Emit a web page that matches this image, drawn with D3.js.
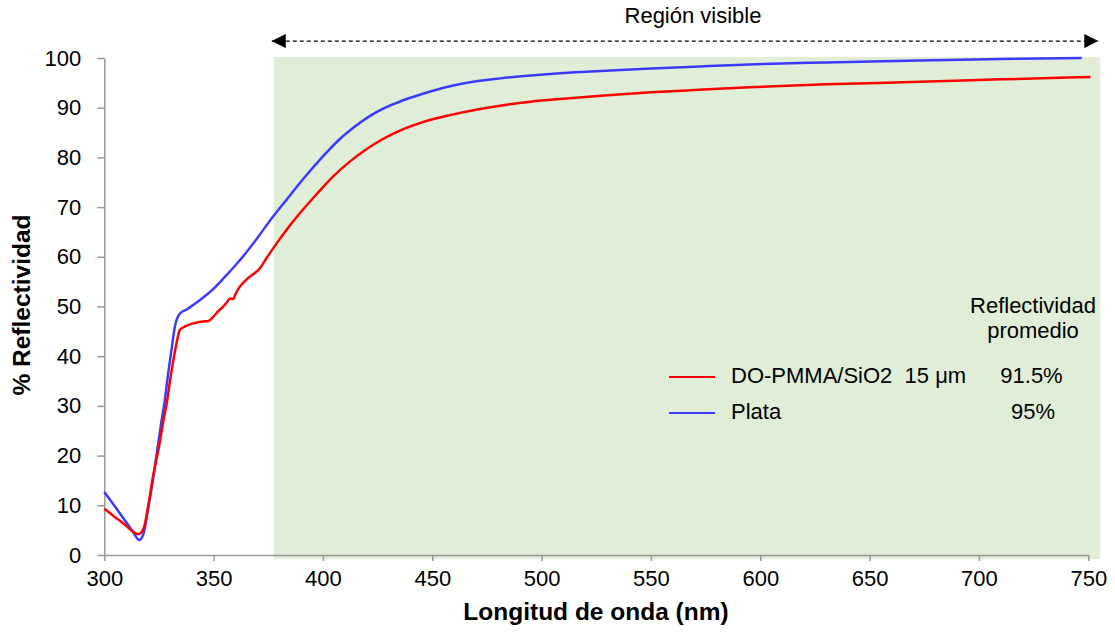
<!DOCTYPE html>
<html>
<head>
<meta charset="utf-8">
<script src="https://cdn.jsdelivr.net/npm/d3@7"></script>
<style>
  body { margin: 0; background: #fff; }
  svg { display: block; font-family: "Liberation Sans", Arial, sans-serif; }
</style>
</head>
<body>
<svg id="chart" width="1115" height="636"></svg>
<script>
// ---- Data ----
const xTicks = [300, 350, 400, 450, 500, 550, 600, 650, 700, 750];
const yTicks = [0, 10, 20, 30, 40, 50, 60, 70, 80, 90, 100];

const plataNm = [300, 305, 310, 313, 316, 318, 320, 322, 324.5, 326, 327.7, 329.2, 330.7, 332.3, 334.6, 337.7, 340, 343.8, 350, 355, 360, 365, 370, 377, 385, 392, 400, 407, 414, 421, 428, 435, 445, 458, 470, 481, 495, 510, 527, 550, 572, 595, 630, 673, 710, 747];
const plataVal = [12.7, 9.7, 6.6, 4.8, 3.0, 4.4, 9.1, 14.4, 22.0, 26.5, 31.2, 36.5, 41.2, 46.0, 48.6, 49.4, 50.1, 51.3, 53.6, 55.9, 58.3, 60.9, 63.8, 68.0, 72.4, 76.2, 80.2, 83.4, 86.0, 88.2, 89.9, 91.2, 92.7, 94.3, 95.3, 95.9, 96.5, 97.0, 97.4, 97.9, 98.3, 98.7, 99.1, 99.5, 99.8, 100.0];

const pmmaNm = [300, 305, 310, 313, 315.5, 318, 320, 322, 325.5, 327, 328.8, 330.2, 331.6, 333.2, 334.6, 337, 340.7, 345, 347.6, 349.8, 352, 354.4, 356, 357.5, 359, 360, 362, 366, 371.2, 374, 378.8, 384, 389.5, 397.1, 404.7, 412.4, 420, 427, 435.2, 445, 458, 470, 481, 495, 510, 527, 550, 572, 595, 630, 673, 710, 751];
const pmmaVal = [9.3, 7.6, 5.9, 4.7, 4.2, 5.4, 9.7, 15.1, 23.0, 27.0, 31.2, 35.5, 39.2, 43.0, 45.3, 46.0, 46.6, 47.0, 47.1, 47.9, 49.0, 50.0, 50.8, 51.6, 51.5, 52.5, 54.0, 55.8, 57.7, 59.6, 62.7, 65.8, 68.8, 72.6, 76.2, 79.2, 81.7, 83.6, 85.4, 87.0, 88.5, 89.6, 90.4, 91.2, 91.8, 92.4, 93.1, 93.6, 94.1, 94.7, 95.2, 95.7, 96.2];

const seriesNames = ["DO-PMMA/SiO2  15 \u03BCm", "Plata"];
const seriesAvg = ["91.5%", "95%"];
const seriesColors = ["#ff0000", "#3b3bff"];
const visibleRange = [377.5, 755.5];

// ---- Scales ----
const svg = d3.select("#chart");
const x = d3.scaleLinear().domain([300, 750]).range([104.3, 1088.3]);
const y = d3.scaleLinear().domain([0, 100]).range([555, 58]);

const FONT = 22;

// Visible region background
svg.append("rect")
  .attr("x", x(visibleRange[0]))
  .attr("y", y(100.2))
  .attr("width", x(visibleRange[1]) - x(visibleRange[0]))
  .attr("height", y(-0.8) - y(100.2))
  .attr("fill", "#e1eed7");

// Arrow
const defs = svg.append("defs");
defs.append("marker").attr("id", "ah").attr("viewBox", "0 0 10 10")
  .attr("refX", 10).attr("refY", 5).attr("markerWidth", 16).attr("markerHeight", 14)
  .attr("markerUnits", "userSpaceOnUse").attr("orient", "auto-start-reverse")
  .append("path").attr("d", "M0,0 L10,5 L0,10 Z").attr("fill", "#000");

svg.append("line")
  .attr("x1", x(visibleRange[0]) - 2).attr("x2", x(visibleRange[1]) - 2)
  .attr("y1", y(103.4)).attr("y2", y(103.4))
  .attr("stroke", "#000").attr("stroke-width", 1.3)
  .attr("stroke-dasharray", "4,3")
  .attr("marker-start", "url(#ah)").attr("marker-end", "url(#ah)");

svg.append("text")
  .attr("x", 693).attr("y", 23)
  .attr("text-anchor", "middle")
  .attr("font-size", FONT).attr("fill", "#000")
  .text("Región visible");

// Axes
const xAxis = d3.axisBottom(x).tickValues(xTicks).tickSize(6).tickSizeOuter(0).tickPadding(9);
const gx = svg.append("g").attr("transform", `translate(0,${y(0)})`).call(xAxis);
gx.select(".domain").attr("stroke", "#999").attr("stroke-width", 1.5);
gx.selectAll(".tick line").attr("stroke", "#999").attr("stroke-width", 1.5);
gx.selectAll(".tick text").attr("font-size", FONT).attr("font-family", "Liberation Sans, Arial, sans-serif").attr("fill", "#000");

const yAxis = d3.axisLeft(y).tickValues(yTicks).tickSize(7).tickSizeOuter(0).tickPadding(16);
const gy = svg.append("g").attr("transform", `translate(${x(300)},0)`).call(yAxis);
gy.select(".domain").attr("stroke", "#999").attr("stroke-width", 1.5);
gy.selectAll(".tick line").attr("stroke", "#999").attr("stroke-width", 1.5);
gy.selectAll(".tick text").attr("font-size", FONT).attr("font-family", "Liberation Sans, Arial, sans-serif").attr("fill", "#000");

// Axis titles
svg.append("text")
  .attr("x", 596).attr("y", 620)
  .attr("text-anchor", "middle").attr("font-weight", "bold")
  .attr("font-size", 24.5).attr("fill", "#000")
  .text("Longitud de onda (nm)");

svg.append("text")
  .attr("transform", "translate(30,305) rotate(-90)")
  .attr("text-anchor", "middle").attr("font-weight", "bold")
  .attr("font-size", 24.5).attr("fill", "#000")
  .text("% Reflectividad");

// Lines
const line = d3.line().x(d => x(d[0])).y(d => y(d[1])).curve(d3.curveMonotoneX);
const series = [
  { nm: pmmaNm, val: pmmaVal, color: seriesColors[0] },
  { nm: plataNm, val: plataVal, color: seriesColors[1] }
];
series.slice().reverse().forEach(s => {
  svg.append("path")
    .datum(s.nm.map((n, i) => [n, s.val[i]]))
    .attr("d", line)
    .attr("fill", "none")
    .attr("stroke", s.color)
    .attr("stroke-width", 2.5)
    .attr("stroke-linejoin", "round");
});

// Legend
svg.append("text").attr("x", 1033).attr("y", 313).attr("text-anchor", "middle")
  .attr("font-size", FONT).attr("fill", "#000").text("Reflectividad");
svg.append("text").attr("x", 1033).attr("y", 338).attr("text-anchor", "middle")
  .attr("font-size", FONT).attr("fill", "#000").text("promedio");

const legY = [377, 413];
seriesNames.forEach((name, i) => {
  svg.append("line").attr("x1", 669).attr("x2", 715)
    .attr("y1", legY[i]).attr("y2", legY[i])
    .attr("stroke", seriesColors[i]).attr("stroke-width", 2);
  svg.append("text").attr("x", 731).attr("y", legY[i] + 6)
    .attr("font-size", FONT).attr("fill", "#000").attr("xml:space", "preserve")
    .style("white-space", "pre")
    .text(name);
  svg.append("text").attr("x", i === 0 ? 1031.5 : 1033).attr("y", legY[i] + 6)
    .attr("text-anchor", "middle")
    .attr("font-size", FONT).attr("fill", "#000").text(seriesAvg[i]);
});
</script>
</body>
</html>
